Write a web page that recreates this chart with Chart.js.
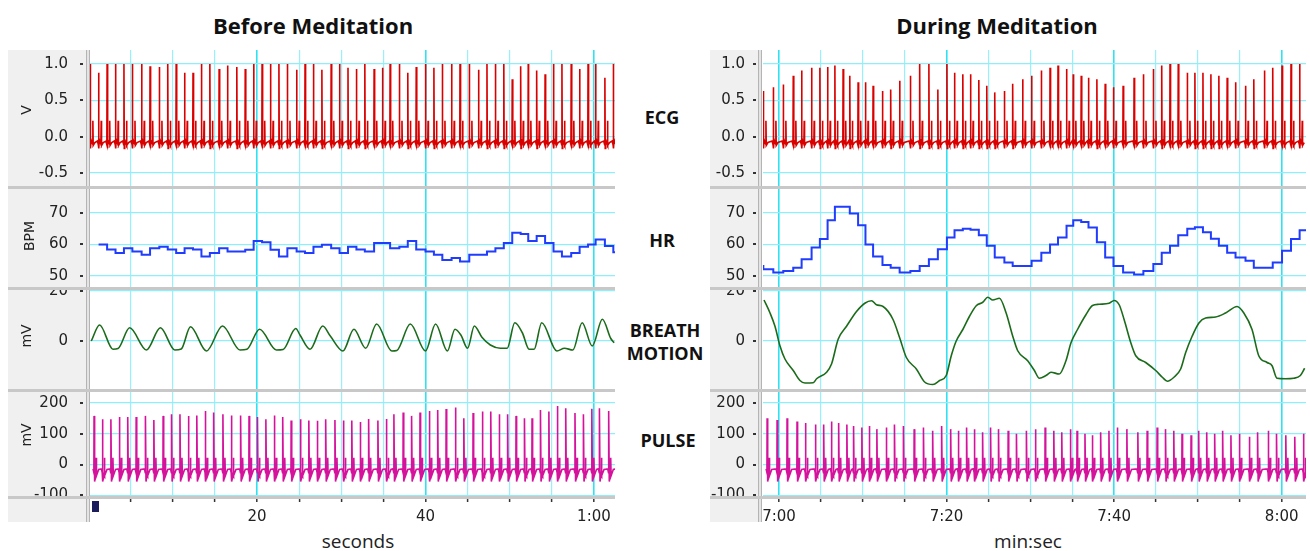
<!DOCTYPE html>
<html>
<head>
<meta charset="utf-8">
<script src="https://cdn.jsdelivr.net/npm/chart.js@4.4.1/dist/chart.umd.min.js"></script>
<style>
  body { margin: 0; background: #fff; width: 1310px; height: 551px; position: relative; overflow: hidden; font-family: 'Open Sans', sans-serif; }
  .strip { position: absolute; background: #f0f0f0; z-index: 0; }
  .cover { position: absolute; background: #f0f0f0; z-index: 3; }
  .sep { position: absolute; height: 3px; background: #c8c8c8; z-index: 4; }
  .vline { position: absolute; width: 2px; border-left: 1px solid #b4b4b4; border-right: 1px solid #b4b4b4; background: #e4e4e4; z-index: 4; }
  canvas { position: absolute; z-index: 2; }
  .title { position: absolute; font-weight: 700; font-size: 22px; color: #111; transform: translate(-50%, -50%); white-space: nowrap; }
  .lab { position: absolute; font-weight: 700; font-size: 18px; color: #111; transform: translate(-50%, -50%); white-space: nowrap; text-align: center; }
  .ytitle { position: absolute; font-family: 'DejaVu Sans', sans-serif; font-size: 14px; color: #222; transform: translate(-50%, -50%) rotate(-90deg); white-space: nowrap; z-index: 5; }
  .xtitle { position: absolute; font-size: 19px; color: #222; transform: translate(-50%, -50%); white-space: nowrap; }
</style>
</head>
<body>
<div class="title" style="left:313px; top:25px;">Before Meditation</div>
<div class="title" style="left:997px; top:25px;">During Meditation</div>

<div class="lab" style="left:662px; top:117px;">ECG</div>
<div class="lab" style="left:662px; top:240px;">HR</div>
<div class="lab" style="left:665px; top:330px;">BREATH</div>
<div class="lab" style="left:665px; top:353px;">MOTION</div>
<div class="lab" style="left:668px; top:440px;">PULSE</div>

<div class="strip" style="left:8px; top:50px; width:79px; height:472px;"></div>
<div class="strip" style="left:710px; top:50px; width:49px; height:472px;"></div>
<div class="cover" style="left:8px; top:499px; width:78px; height:23px;"></div>
<div class="cover" style="left:710px; top:499px; width:48px; height:23px;"></div>
<div class="vline" style="left:86px; top:50px; height:472px;"></div>
<div class="vline" style="left:758px; top:50px; height:472px;"></div>
<div style="position:absolute; left:92px; top:501px; width:7px; height:11px; background:#1c1c5c; z-index:5;"></div>

<div class="ytitle" style="left:26px; top:110px;">V</div>
<div class="ytitle" style="left:29px; top:236px;">BPM</div>
<div class="ytitle" style="left:26px; top:336px;">mV</div>
<div class="ytitle" style="left:26px; top:435px;">mV</div>

<div class="xtitle" style="left:358px; top:541px;">seconds</div>
<div class="xtitle" style="left:1028px; top:541px;">min:sec</div>

<script>
// ---- Before meditation (seconds) ----
const ecgLeftTimes = [0.2, 1.19, 2.2, 3.2, 4.2, 5.2, 6.3, 7.3, 8.4, 9.4,
  10.4, 11.4, 12.4, 13.4, 14.4, 15.5, 16.5, 17.6, 18.6, 19.6,
  20.6, 21.6, 22.6, 23.6, 24.7, 25.7, 26.7, 27.7, 28.8, 29.8,
  30.8, 31.8, 32.8, 33.9, 34.9, 35.8, 36.9, 37.9, 38.9, 40.0,
  41.0, 42.0, 43.1, 44.1, 45.2, 46.3, 47.3, 48.3, 49.3, 50.3,
  51.3, 52.2, 53.2, 54.2, 55.2, 56.2, 57.3, 58.3, 59.3, 60.2,
  61.3, 62.3];
const ecgLeftPeaks = [1.0, 0.88, 1.0, 1.0, 1.0, 1.0, 1.0, 0.97, 0.96, 1.0,
  1.0, 0.88, 0.88, 1.0, 1.0, 0.93, 0.98, 0.96, 0.93, 1.0,
  1.0, 1.0, 1.0, 1.0, 0.92, 1.0, 1.0, 0.92, 1.0, 1.0,
  0.95, 0.93, 1.0, 0.93, 0.95, 1.0, 1.0, 0.88, 0.96, 1.0,
  0.95, 1.0, 1.0, 1.0, 1.0, 0.92, 1.0, 1.0, 1.0, 0.79,
  0.97, 1.0, 0.91, 0.86, 1.0, 1.0, 1.0, 0.93, 1.0, 1.0,
  0.81, 1.0];
// heart rate after each beat, from the second beat on
const hrLeft = [60.0, 58.4, 57.3, 58.8, 57.8, 56.7, 58.8, 59.3, 58.4, 57.3,
  58.8, 58.4, 56.2, 57.3, 58.8, 57.8, 57.8, 58.3, 61.1, 60.7,
  58.3, 56.2, 58.8, 57.8, 57.3, 59.3, 59.9, 58.8, 57.3, 59.3,
  58.4, 57.8, 60.5, 60.5, 58.8, 59.3, 61.1, 58.4, 57.8, 56.7,
  55.1, 55.7, 54.6, 56.7, 56.7, 57.8, 58.8, 60.5, 63.7, 63.3,
  61.1, 62.7, 60.5, 57.8, 56.2, 57.3, 59.3, 60.0, 61.6, 59.5,
  57.5];
const breathLeftTimes = [0.32, 1.31, 2.9, 3.5, 4.88, 6.87, 8.53, 10.24, 11.0, 12.1,
  14.0, 15.9, 17.98, 18.8, 20.3, 22.3, 23.1, 24.6, 25.1, 26.3,
  27.8, 28.7, 30.2, 31.5, 32.9, 34.2, 36.0, 36.6, 38.2, 40.0,
  41.2, 42.6, 43.5, 44.2, 45.0, 45.8, 46.7, 47.7, 48.9, 49.7,
  50.6, 51.5, 52.3, 52.9, 53.8, 55.6, 56.5, 57.5, 58.6, 59.8,
  61.0, 62.0, 62.4];
const breathLeftValues = [0, 6.4, -3.3, -3.0, 5.3, -3.6, 5.3, -3.6, -3.2, 5.7,
  -4, 6, -3.6, -3.3, 4.7, -3.6, -3.4, 5, 2.4, -3.3,
  6, 2, -4, 4.7, -2.9, 6.8, -4, -3.8, 6.8, -4,
  6.8, -4, 4.7, 2.4, -2.9, 6, 1.5, -1.6, -2.9, -2.9,
  7.3, 3.3, -3.3, -3.3, 7.3, -4, -2.9, -3.6, 7.3, -2,
  8.7, 1, -0.7];
const pulseLeftPeaks = [158, 147, 147, 154, 154, 154, 158, 145, 158, 163,
  163, 158, 159, 174, 169, 163, 159, 159, 158, 154,
  147, 159, 154, 143, 147, 143, 142, 147, 145, 143,
  143, 138, 148, 143, 148, 163, 169, 158, 169, 174,
  177, 180, 185, 150, 167, 172, 172, 163, 163, 158,
  150, 150, 177, 172, 190, 183, 167, 163, 181, 183,
  174, 170];

// ---- During meditation (seconds of the recording) ----
const ecgRightTimes = [418.13, 419.32, 420.51, 421.70, 422.70, 423.89, 424.88, 425.80, 426.67, 427.65,
  428.45, 429.44, 430.32, 431.23, 432.35, 433.33, 434.40, 435.68, 436.79, 437.89,
  438.96, 440.04, 440.95, 441.94, 442.86, 443.85, 444.80, 445.75, 446.90, 447.89,
  449.08, 450.15, 451.31, 452.35, 453.30, 454.32, 455.12, 456.07, 456.94, 457.94,
  458.93, 459.92, 461.07, 462.38, 463.49, 464.68, 465.68, 466.67, 467.65, 468.73,
  469.64, 470.60, 471.55, 472.50, 473.49, 474.49, 475.68, 476.67, 477.94, 478.93,
  480.04, 481.11, 482.14];
const ecgRightPeaks = [0.63, 0.68, 0.72, 0.84, 0.91, 0.95, 0.95, 0.96, 0.98, 0.93,
  0.84, 0.75, 0.75, 0.70, 0.63, 0.65, 0.77, 0.84, 1.0, 1.0,
  0.65, 1.0, 0.88, 0.86, 0.86, 0.78, 0.70, 0.61, 0.63, 0.73,
  0.79, 0.84, 0.91, 0.95, 0.98, 0.93, 0.86, 0.84, 0.81, 0.79,
  0.73, 0.68, 0.70, 0.81, 0.86, 0.93, 0.98, 1.0, 1.0, 0.88,
  0.88, 0.88, 0.86, 0.84, 0.81, 0.75, 0.70, 0.79, 0.91, 0.95,
  0.98, 1.0, 1.0];
const hrRightStart = 53.2;
const hrRight = [52.1, 51.1, 51.6, 52.6, 55.3, 59.0, 61.7, 67.7, 72, 72,
  69.8, 66.1, 60, 56.2, 53.5, 52.6, 51.1, 51.6, 53.2, 55.3,
  58.5, 62.2, 64.5, 65, 64.7, 62.9, 59.6, 55.9, 54.3, 53.2,
  53.2, 54.8, 57.4, 60, 62.2, 65.9, 67.7, 67.1, 65.4, 60.7,
  55.9, 53.2, 51.1, 50.5, 51.6, 53.8, 57.4, 59.6, 62.9, 65,
  65.5, 63.9, 61.8, 59.6, 57.4, 55.9, 54.8, 52.6, 52.6, 54.3,
  58, 61.7, 64.5];
const breathRightTimes = [418.21, 418.93, 419.52, 420.12, 420.71, 421.70, 422.50, 423.10, 424.08, 424.49,
  425.68, 426.27, 427.06, 428.06, 429.25, 430.24, 431.04, 431.63, 432.42, 433.61,
  434.40, 435.20, 436.39, 437.38, 438.37, 439.17, 439.96, 440.56, 441.15, 441.94,
  442.74, 443.54, 444.32, 444.92, 445.51, 446.31, 447.11, 447.89, 448.49, 449.68,
  450.48, 451.07, 451.87, 452.46, 453.45, 454.25, 454.85, 455.63, 456.63, 457.42,
  458.21, 459.40, 460.00, 460.60, 461.19, 461.99, 462.58, 463.77, 464.96, 465.75,
  466.35, 467.14, 467.94, 468.54, 469.32, 470.12, 470.92, 472.11, 473.30, 474.68,
  475.48, 476.46, 477.26, 478.25, 478.85, 479.44, 480.44, 481.43, 482.23, 482.74];
const breathRightValues = [16.4, 11.2, 5.9, -2, -7.2, -11.8, -15.8, -16.8, -16.7, -15.1,
  -12.5, -9.2, 0.7, 5.9, 11.8, 15.1, 16.1, 14.5, 13.8, 8.6,
  1.3, -6.6, -11.2, -16.4, -17.4, -15.8, -13.8, -5.9, 0, 4.6,
  9.9, 14.1, 15.5, 17.5, 16.4, 17.1, 11.2, 2, -3.9, -7.9,
  -11.8, -14.9, -13.8, -12.5, -13.2, -7.9, -0.7, 4.6, 10.5, 14.2,
  14.7, 15.1, 16.2, 14.5, 8.6, -0.7, -5.9, -8.6, -11.8, -14.5,
  -16.1, -14.5, -11.2, -4.6, 2, 7.2, 9.2, 9.6, 11.2, 13.8,
  11.2, 4.6, -5.9, -8.6, -9.9, -14.9, -15.1, -14.9, -13.8, -10.9];
const pulseRightPeaks = [150, 145, 150, 140, 135, 130, 130, 140, 135, 130,
  125, 120, 125, 115, 120, 130, 125, 115, 120, 110,
  125, 115, 110, 120, 115, 105, 120, 115, 110, 100,
  110, 115, 120, 110, 105, 115, 110, 100, 95, 105,
  110, 120, 115, 105, 110, 120, 115, 110, 100, 95,
  110, 105, 100, 110, 95, 100, 90, 105, 110, 100,
  95, 90, 100];

// tick labels
const ecgTicks = [1.0, 0.5, 0.0, -0.5];
const hrTicks = [70, 60, 50];
const breathTicks = [20, 0];
const pulseTicks = [200, 100, 0, -100];
const xGridLeft = [5, 10, 15, 20, 25, 30, 35, 40, 45, 50, 55, 60];
const xGridRight = [420, 425, 430, 435, 440, 445, 450, 455, 460, 465, 470, 475, 480];

const pulseLag = 0.45; // pulse wave arrives a bit after the R wave

Chart.defaults.font.family = "'DejaVu Sans', sans-serif";

function ecgTrace(times, peaks) {
  const pts = [];
  times.forEach((t, i) => {
    pts.push({x: t - 0.14, y: -0.06});
    pts.push({x: t - 0.03, y: -0.11});
    pts.push({x: t, y: peaks[i]});
    pts.push({x: t + 0.04, y: -0.16});
    pts.push({x: t + 0.09, y: -0.04});
    pts.push({x: t + 0.27, y: -0.1});
    pts.push({x: t + 0.31, y: 0.22});
    pts.push({x: t + 0.35, y: -0.12});
    pts.push({x: t + 0.55, y: -0.08});
  });
  return pts;
}

function pulseTrace(times, peaks) {
  const pts = [];
  times.forEach((t, i) => {
    const p = t + pulseLag;
    pts.push({x: p - 0.12, y: -14});
    pts.push({x: p - 0.02, y: -26});
    pts.push({x: p, y: peaks[i]});
    pts.push({x: p + 0.07, y: -55});
    pts.push({x: p + 0.2, y: -32});
    pts.push({x: p + 0.24, y: 22});
    pts.push({x: p + 0.29, y: -36});
    pts.push({x: p + 0.55, y: -16});
  });
  return pts;
}

function zip(xs, ys) {
  return xs.map((x, i) => ({x: x, y: ys[i]}));
}

function fmtTime(v) {
  if (v % 20 !== 0) return '';
  if (v < 60) return String(v);
  const m = Math.floor(v / 60), s = v % 60;
  return m + ':' + String(s).padStart(2, '0');
}

const dashPlugin = {
  id: 'dash',
  afterDraw(chart) {
    const y = chart.scales.y, ctx = chart.ctx, L = chart.chartArea.left;
    ctx.save();
    ctx.fillStyle = '#333';
    y.ticks.forEach(t => {
      const py = Math.round(y.getPixelForValue(t.value));
      ctx.fillRect(L - 10, py - 1, 3, 2);
    });
    ctx.restore();
  }
};

const sides = {
  left: {canvasLeft: 8, width: 607, yWidth: 82, gap: 18, xMin: 0.17, xMax: 62.5, xGrid: xGridLeft},
  right: {canvasLeft: 710, width: 596, yWidth: 53, gap: 14, xMin: 418.09, xMax: 482.9, xGrid: xGridRight}
};
const rows = {
  ecg: {top: 50, height: 136, min: -0.678, max: 1.193, ticks: ecgTicks, fmt: v => v.toFixed(1)},
  hr: {top: 189, height: 98, min: 46.5, max: 77.6, ticks: hrTicks, fmt: v => String(v)},
  breath: {top: 290, height: 99, min: -19.2, max: 20.4, ticks: breathTicks, fmt: v => String(v)},
  pulse: {top: 392, height: 104, min: -102, max: 235.5, ticks: pulseTicks, fmt: v => String(v)}
};
const xAxisHeight = 55;

function makeChart(side, row, dataset, isBottom) {
  const cv = document.createElement('canvas');
  const h = row.height + (isBottom ? xAxisHeight : 0);
  cv.width = side.width;
  cv.height = h;
  cv.style.left = side.canvasLeft + 'px';
  cv.style.top = row.top + 'px';
  cv.style.width = side.width + 'px';
  cv.style.height = h + 'px';
  document.body.appendChild(cv);

  dataset.pointRadius = 0;
  dataset.fill = false;

  new Chart(cv.getContext('2d'), {
    type: 'line',
    data: {datasets: [dataset]},
    options: {
      responsive: false,
      animation: false,
      devicePixelRatio: 1,
      layout: {padding: 0},
      plugins: {legend: {display: false}, tooltip: {enabled: false}},
      scales: {
        x: {
          type: 'linear',
          min: side.xMin,
          max: side.xMax,
          afterBuildTicks: s => { s.ticks = side.xGrid.map(v => ({value: v})); },
          afterFit: s => { s.height = isBottom ? xAxisHeight : 0; s.paddingLeft = 0; s.paddingRight = 0; },
          border: {display: false},
          grid: {
            color: c => (c.tick && c.tick.value % 20 === 0) ? '#2ee2f2' : '#98f0fa',
            lineWidth: c => (c.tick && c.tick.value % 20 === 0) ? 1.6 : 1.2,
            drawTicks: isBottom,
            tickLength: 6,
            tickColor: '#333',
            tickWidth: 1.5
          },
          ticks: {
            display: isBottom,
            autoSkip: false,
            maxRotation: 0,
            padding: 6,
            color: '#222',
            font: {size: 15},
            callback: v => fmtTime(v)
          }
        },
        y: {
          min: row.min,
          max: row.max,
          afterBuildTicks: s => { s.ticks = row.ticks.map(v => ({value: v})); },
          afterFit: s => { s.width = side.yWidth; s.paddingTop = 0; s.paddingBottom = 0; },
          border: {display: false},
          grid: {color: '#8eeffa', lineWidth: 1.2, drawTicks: true, tickLength: side.gap, tickColor: 'rgba(0,0,0,0)'},
          ticks: {padding: 4, color: '#222', font: {size: 15}, callback: v => row.fmt(v)}
        }
      }
    },
    plugins: [dashPlugin]
  });
}

// separators between the strips
[186, 287, 389, 496].forEach(y => {
  [[8, 607], [710, 596]].forEach(([l, w]) => {
    const d = document.createElement('div');
    d.className = 'sep';
    d.style.left = l + 'px';
    d.style.top = y + 'px';
    d.style.width = w + 'px';
    document.body.appendChild(d);
  });
});

// left side
makeChart(sides.left, rows.ecg,
  {data: ecgTrace(ecgLeftTimes, ecgLeftPeaks), borderColor: '#d90000', borderWidth: 1.6}, false);
makeChart(sides.left, rows.hr,
  {data: [...zip(ecgLeftTimes.slice(1), hrLeft), {x: sides.left.xMax, y: hrLeft[hrLeft.length - 1]}],
   borderColor: '#1f3cff', borderWidth: 2, stepped: true}, false);
makeChart(sides.left, rows.breath,
  {data: zip(breathLeftTimes, breathLeftValues), borderColor: '#1b6b1b', borderWidth: 1.6,
   cubicInterpolationMode: 'monotone'}, false);
makeChart(sides.left, rows.pulse,
  {data: pulseTrace(ecgLeftTimes, pulseLeftPeaks), borderColor: '#d4129c', borderWidth: 1.6}, true);

// right side
makeChart(sides.right, rows.ecg,
  {data: ecgTrace(ecgRightTimes, ecgRightPeaks), borderColor: '#d90000', borderWidth: 1.6}, false);
makeChart(sides.right, rows.hr,
  {data: [{x: sides.right.xMin, y: hrRightStart}, ...zip(ecgRightTimes, hrRight),
          {x: sides.right.xMax, y: hrRight[hrRight.length - 1]}],
   borderColor: '#1f3cff', borderWidth: 2, stepped: true}, false);
makeChart(sides.right, rows.breath,
  {data: zip(breathRightTimes, breathRightValues), borderColor: '#1b6b1b', borderWidth: 1.6,
   cubicInterpolationMode: 'monotone'}, false);
makeChart(sides.right, rows.pulse,
  {data: pulseTrace(ecgRightTimes, pulseRightPeaks), borderColor: '#d4129c', borderWidth: 1.6}, true);
</script>
</body>
</html>
